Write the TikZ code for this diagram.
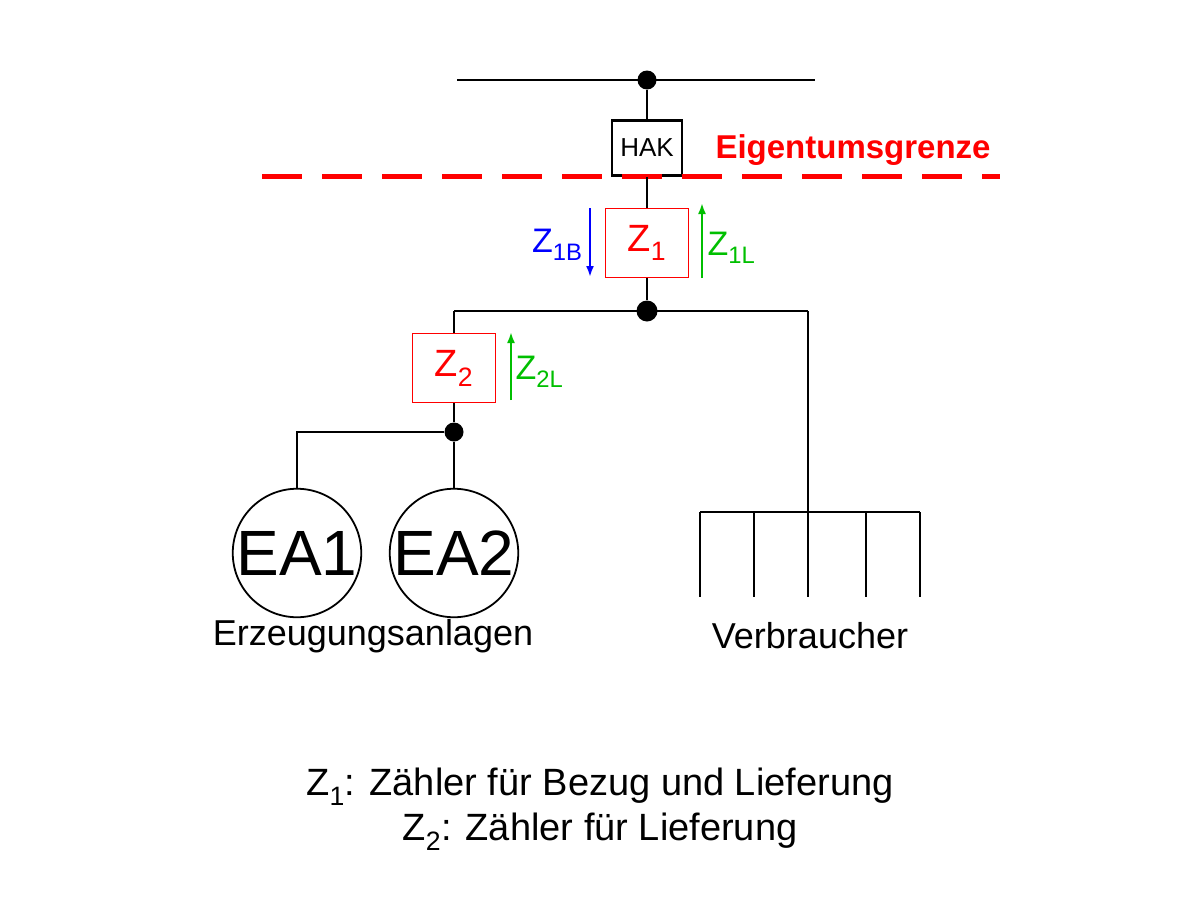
\documentclass[tikz,border=0pt]{standalone}
\usepackage{fontspec}
\setmainfont{Liberation Sans}
\usetikzlibrary{arrows.meta}
\begin{document}
\begin{tikzpicture}[x=1pt,y=-1pt,
  ln/.style={line width=2.5pt,black},
  dot/.style={circle,fill=black,inner sep=0pt},
  meter/.style={draw=red,line width=1.8pt,minimum width=83pt,minimum height=69pt,text=red,font=\fontsize{38}{40}\selectfont},
  gen/.style={circle,draw,line width=1.8pt,minimum size=126pt,inner sep=0pt,font=\fontsize{64}{66}\selectfont},
  lbl/.style={font=\fontsize{36}{40}\selectfont},
  sl/.style={font=\fontsize{34}{38}\selectfont},
  arr/.style={line width=2pt,-{Latex[length=11pt,width=8pt]}}]
\useasboundingbox (0,0) rectangle (1200,900);
\coordinate (tl) at (457,80); \coordinate (tr) at (815,80);
\draw[ln] (tl) -- (tr);
\node[dot,minimum size=19pt] (d0) at (647,80) {};
\node[draw,line width=2.5pt,minimum width=70pt,minimum height=55pt,font=\fontsize{26}{28}\selectfont] (hak) at (647,148) {HAK};
\draw[ln] (d0) -- (hak);
\coordinate (el) at (262,176); \coordinate (er) at (1000,176);
\draw[red,line width=5pt,dash pattern=on 40pt off 20pt] (el) -- (er);
\node[red,font=\bfseries\fontsize{33}{36}\selectfont,anchor=west] (eg) at (712,150) {Eigentumsgrenze};
\node[meter] (z1) at (647,243) {Z\textsubscript{1}};
\draw[ln] (hak) -- (z1);
\node[dot,minimum size=21pt] (d1) at (647,311) {};
\draw[ln] (z1) -- (d1);
\coordinate (a1) at (590,208); \coordinate (a2) at (590,277);
\draw[arr,blue] (a1) -- (a2);
\node[blue,sl,anchor=east] (z1b) at (586,245) {Z\textsubscript{1B}};
\coordinate (g1) at (702,278); \coordinate (g2) at (702,203);
\draw[arr,green!75!black] (g1) -- (g2);
\node[green!75!black,sl,anchor=west] (z1l) at (704,248) {Z\textsubscript{1L}};
\coordinate (bl) at (454,311); \coordinate (br) at (808,311);
\draw[ln] (bl) -- (br);
\node[meter] (z2) at (454,368) {Z\textsubscript{2}};
\draw[ln] (bl) -- (z2);
\coordinate (h1) at (511,400); \coordinate (h2) at (511,332);
\draw[arr,green!75!black] (h1) -- (h2);
\node[green!75!black,sl,anchor=west] (z2l) at (512,372) {Z\textsubscript{2L}};
\node[dot,minimum size=19pt] (d2) at (454,432) {};
\draw[ln] (z2) -- (d2);
\node[gen] (ea1) at (297,553) {EA1};
\node[gen] (ea2) at (454,553) {EA2};
\coordinate (c1) at (297,432);
\draw[ln] (d2) -- (c1) -- (ea1);
\draw[ln] (d2) -- (ea2);
\node[lbl] (erz) at (373,636) {Erzeugungsanlagen};
\coordinate (v0) at (808,597);
\draw[ln] (br) -- (v0);
\coordinate (vl) at (700,512); \coordinate (vr) at (920,512);
\draw[ln] (vl) -- (vr);
\foreach \x in {700,754,866,920}{\draw[ln] (\x,512) -- (\x,597);}
\node[lbl] (ver) at (810,636) {Verbraucher};
\node[font=\fontsize{38}{40}\selectfont] (t1) at (600,787) {Z\textsubscript{1}: Zähler für Bezug und Lieferung};
\node[font=\fontsize{38}{40}\selectfont] (t2) at (600,832) {Z\textsubscript{2}: Zähler für Lieferung};
\end{tikzpicture}
\end{document}
